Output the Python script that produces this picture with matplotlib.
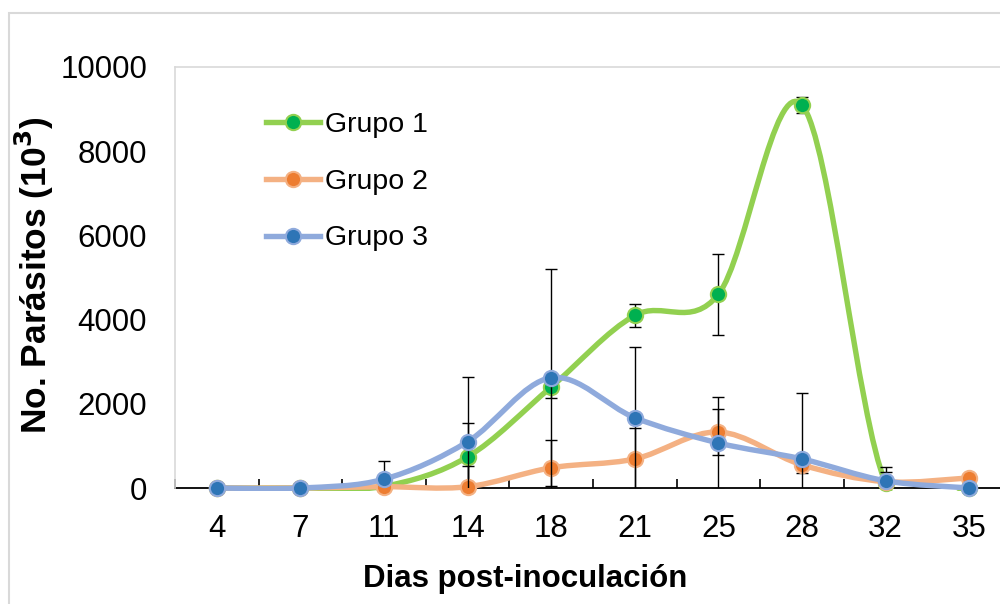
import matplotlib
matplotlib.use("Agg")
import matplotlib.pyplot as plt
import numpy as np
from matplotlib.path import Path
from matplotlib.patches import PathPatch, Rectangle
from matplotlib.lines import Line2D

plt.rcParams['font.family'] = ['Liberation Sans', 'DejaVu Sans']

# data (values in 10^3 parasites)
days = ['4', '7', '11', '14', '18', '21', '25', '28', '32', '35']
names = ['Grupo 1', 'Grupo 2', 'Grupo 3']
g1 = [0, 0, 40, 740, 2400, 4100, 4600, 9100, 120, 0]
g1_err = [0, 0, 0, 810, 260, 270, 960, 190, 0, 0]
g2 = [0, 0, 30, 30, 480, 690, 1330, 550, 150, 240]
g2_err = [0, 0, 0, 490, 650, 740, 550, 190, 230, 0]
g3 = [0, 0, 210, 1100, 2620, 1670, 1070, 690, 170, 0]
g3_err = [0, 0, 430, 1540, 2580, 1690, 1100, 1570, 330, 0]

line_cols = ['#92D050', '#F4B183', '#8FAADC']
mark_cols = ['#00B050', '#ED7D31', '#2E75B6']


def smooth_path(x, y):
    """Excel-like smoothed line: cubic bezier through every point,
    control points at 1/6 of the neighbour difference."""
    p = np.column_stack([x, y]).astype(float)
    n = len(p)
    verts = [p[0]]
    codes = [Path.MOVETO]
    for i in range(n - 1):
        p0 = p[max(i - 1, 0)]
        p1 = p[i]
        p2 = p[i + 1]
        p3 = p[min(i + 2, n - 1)]
        c1 = p1 + (p2 - p0) / 6.0
        c2 = p2 - (p3 - p1) / 6.0
        verts += [c1, c2, p2]
        codes += [Path.CURVE4] * 3
    return Path(verts, codes)


fig = plt.figure(figsize=(10, 6.04), dpi=100)
ax = fig.add_axes([0.175, (604 - 488) / 604, 0.836, (488 - 67) / 604])

# clip box a bit below the axis so lines sitting on zero keep their width
clip = Rectangle((-0.05, -0.008), 1.1, 1.05, transform=ax.transAxes,
                 facecolor='none', edgecolor='none')
ax.add_patch(clip)
clip.set_visible(False)

x = np.arange(len(days))
series = [(g1, g1_err), (g2, g2_err), (g3, g3_err)]
handles = []
for k, (vals, errs) in enumerate(series):
    vals = np.array(vals, float)
    errs = np.array(errs, float)
    m = errs > 0
    ax.errorbar(x[m], vals[m], yerr=errs[m], fmt='none', ecolor='black',
                elinewidth=1.0, capsize=4.3, capthick=1.0, zorder=2 + k)
    patch = PathPatch(smooth_path(x, vals), facecolor='none',
                      edgecolor=line_cols[k], lw=3.9, capstyle='round',
                      joinstyle='round', zorder=2.2 + k)
    ax.add_patch(patch)
    patch.set_clip_path(clip)
    ax.plot(x, vals, 'o', markersize=11, markerfacecolor=mark_cols[k],
            markeredgecolor=line_cols[k], markeredgewidth=1.5,
            clip_on=False, zorder=2.4 + k)
    handles.append(Line2D([], [], color=line_cols[k], lw=3.9, marker='o',
                          markersize=11, markerfacecolor=mark_cols[k],
                          markeredgecolor=line_cols[k], markeredgewidth=1.5))

ax.set_xlim(-0.5, len(days) - 0.5)
ax.set_ylim(0, 10000)
ax.set_xticks(x)
ax.set_xticklabels(days)
ax.set_xticks(np.arange(-0.5, len(days)), minor=True)
ax.tick_params(axis='x', which='major', length=0, pad=19, labelsize=22.5)
ax.tick_params(axis='x', which='minor', direction='in', length=6.5,
               width=1.2, color='black')
ax.set_yticks(np.arange(0, 10001, 2000))
ax.tick_params(axis='y', length=0, pad=20, labelsize=22.5)

for s in ['left', 'top', 'right']:
    ax.spines[s].set_color('#D9D9D9')
    ax.spines[s].set_linewidth(1.2)
ax.spines['bottom'].set_color('black')
ax.spines['bottom'].set_linewidth(1.3)
ax.spines['bottom'].set_zorder(1.5)

ax.legend(handles, names, loc='upper left', frameon=False, fontsize=20.5,
          bbox_to_anchor=(266 / 1000, (604 - 112) / 604),
          bbox_transform=fig.transFigure, borderpad=0, borderaxespad=0,
          handlelength=1.9, handletextpad=0.18, labelspacing=1.08)

fig.text(47 / 1000, 1 - 275 / 604, 'No. Parásitos (10$^{\\mathbf{3}}$)',
         rotation=90, rotation_mode='anchor', ha='center', va='baseline',
         fontsize=25.5, fontweight='bold')
fig.text(525 / 1000, 1 - 587 / 604, 'Dias post-inoculación',
         ha='center', va='baseline', fontsize=22.5, fontweight='bold')

# outer chart frame (cropped on the right and bottom)
fig.add_artist(Rectangle((8.5 / 1000, -0.5), 2, 0.5 + 1 - 13 / 604,
                         transform=fig.transFigure, facecolor='none',
                         edgecolor='#D9D9D9', lw=1.5))

fig.savefig('out.png', dpi=100)
